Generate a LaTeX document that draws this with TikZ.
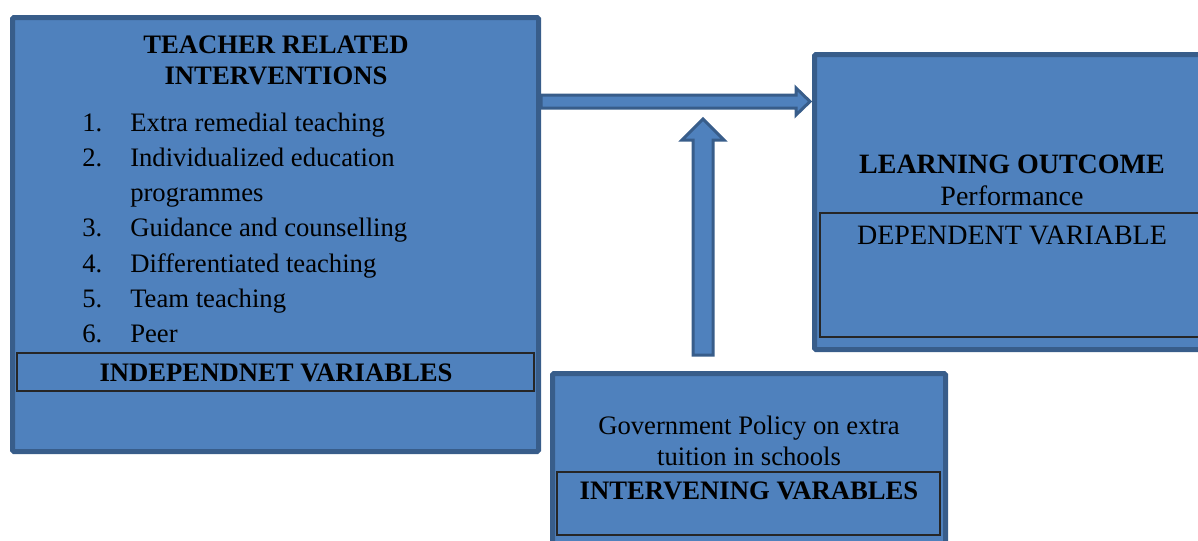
\documentclass[tikz,border=0pt]{standalone}
\usepackage{fontspec}
\setmainfont{Liberation Serif}
\usetikzlibrary{calc,fit}
\definecolor{boxblue}{HTML}{4F81BD}
\definecolor{boxedge}{HTML}{385D8A}
\begin{document}
\begin{tikzpicture}[x=0.75pt,y=-0.75pt,
  panel/.style={fill=boxblue,draw=boxedge,line width=3.75pt,rounded corners=1pt,inner sep=0pt},
  labelbox/.style={draw=black!85,line width=0.9pt,inner sep=0pt},
  blockarrow/.style={fill=boxblue,draw=boxedge,line width=2.25pt,line join=miter},
  txt/.style={anchor=base,inner sep=0pt,font=\fontsize{20}{24}\selectfont},
  txtb/.style={txt,font=\fontsize{20}{24}\selectfont\bfseries},
  big/.style={anchor=base,inner sep=0pt,font=\fontsize{21}{25}\selectfont},
  num/.style={anchor=base west,inner sep=0pt,font=\fontsize{20}{24}\selectfont},
]
\clip (0,0) rectangle (1198,540);

% panels
\node[panel,fit={(12.5,17.5) (538.5,451.5)}] (teacher) {};
\node[panel,fit={(814.5,54.5) (1210,349.5)}] (outcome) {};
\node[panel,fit={(552.5,373.5) (945.5,560)}] (policy) {};

% inner label frames
\node[labelbox,fit={(17,353) (534,391)}] (indepbox) {};
\node[labelbox,fit={(820,213) (1210,337)}] (depbox) {};
\node[labelbox,fit={(557,472) (940,535)}] (intbox) {};

% teacher related interventions
\node[txtb] (t1) at (276,53) {TEACHER RELATED};
\node[txtb] (t2) at (276,84) {INTERVENTIONS};
\node[num] (n1) at (82,131) {1.};
\node[num] (i1) at (130,131) {Extra remedial teaching};
\node[num] (n2) at (82,166) {2.};
\node[num] (i2) at (130,166) {Individualized education};
\node[num] (i2b) at (130,201) {programmes};
\node[num] (n3) at (82,236) {3.};
\node[num] (i3) at (130,236) {Guidance and counselling};
\node[num] (n4) at (82,272) {4.};
\node[num] (i4) at (130,272) {Differentiated teaching};
\node[num] (n5) at (82,307) {5.};
\node[num] (i5) at (130,307) {Team teaching};
\node[num] (n6) at (82,342) {6.};
\node[num] (i6) at (130,342) {Peer};
\node[txtb] (indep) at (276,381) {INDEPENDNET VARIABLES};

% learning outcome
\node[big,font=\fontsize{21}{25}\selectfont\bfseries] (lo) at (1012,173) {LEARNING OUTCOME};
\node[big] (perf) at (1012,205) {Performance};
\node[big] (dep) at (1012,244) {DEPENDENT VARIABLE};

% government policy
\node[txt] (g1) at (749,434) {Government Policy on extra};
\node[txt] (g2) at (749,465) {tuition in schools};
\node[txtb] (intv) at (749,499) {INTERVENING VARABLES};

% horizontal block arrow
\path (0,101.5) coordinate (hy);
\coordinate (hs) at (teacher.east |- hy);
\coordinate (he) at (outcome.west |- hy);
\draw[blockarrow] ($(hs)+(0,-6.5)$) -- ($(he)+(-16,-6.5)$) -- ($(he)+(-16,-13.5)$)
  -- ($(he)+(-2,0)$) -- ($(he)+(-16,13.5)$) -- ($(he)+(-16,6.5)$) -- ($(hs)+(0,6.5)$) -- cycle;

% vertical block arrow
\path (703,0) coordinate (vx);
\coordinate (vb) at ($(vx |- policy.north)+(0,-16)$);
\coordinate (vt) at (703,119);
\draw[blockarrow] ($(vb)+(-10,0)$) -- ($(vt)+(-10,21)$) -- ($(vt)+(-21,21)$) -- (vt)
  -- ($(vt)+(21,21)$) -- ($(vt)+(10,21)$) -- ($(vb)+(10,0)$) -- cycle;
\end{tikzpicture}
\end{document}
